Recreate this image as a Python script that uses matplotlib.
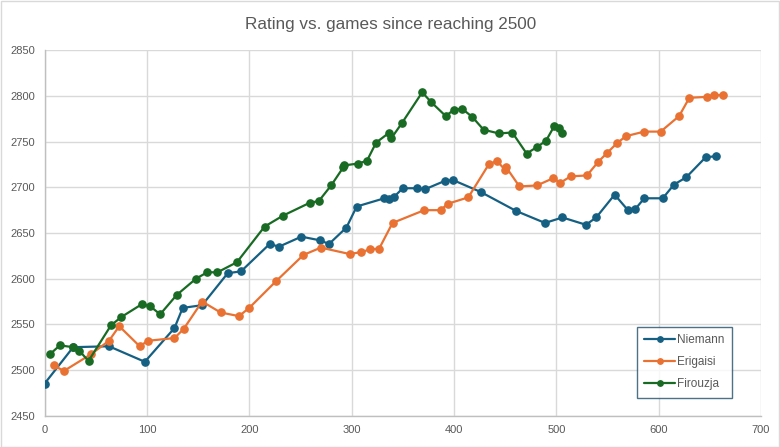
import matplotlib
matplotlib.use("Agg")
import matplotlib.pyplot as plt
from matplotlib.patches import Rectangle

plt.rcParams['font.family'] = ['Liberation Sans', 'DejaVu Sans']

niemann_games = [0, 28, 63, 98, 127, 135, 154, 179, 192, 220, 229, 251, 269, 278,
                 295, 305, 332, 337, 341, 350, 364, 372, 391, 399, 426, 461, 489,
                 506, 529, 539, 557, 570, 577, 586, 604, 615, 627, 646, 656]
niemann_rating = [2485, 2525, 2526, 2509, 2546, 2568, 2571, 2606, 2608, 2638, 2635,
                  2646, 2642, 2638, 2656, 2679, 2688, 2687, 2689, 2699, 2699, 2698,
                  2707, 2708, 2695, 2674, 2661, 2667, 2659, 2667, 2692, 2675, 2676,
                  2688, 2688, 2703, 2711, 2733, 2734]

erigaisi_games = [9, 19, 45, 63, 73, 93, 101, 127, 136, 154, 172, 190, 200, 226,
                  253, 270, 298, 309, 318, 327, 340, 371, 387, 394, 414, 434, 442,
                  450, 451, 464, 481, 497, 504, 514, 530, 541, 550, 559, 568, 586,
                  602, 620, 630, 647, 654, 663]
erigaisi_rating = [2505, 2499, 2517, 2532, 2548, 2526, 2532, 2535, 2545, 2575, 2563,
                   2559, 2568, 2597, 2626, 2634, 2627, 2629, 2632, 2633, 2661, 2675,
                   2675, 2682, 2689, 2725, 2729, 2719, 2722, 2701, 2702, 2710, 2705,
                   2712, 2713, 2728, 2738, 2748, 2756, 2761, 2761, 2778, 2798, 2799,
                   2801, 2801]

firouzja_games = [5, 15, 28, 34, 43, 65, 75, 95, 103, 113, 129, 148, 159, 169, 188,
                  215, 233, 259, 268, 280, 292, 293, 306, 315, 324, 337, 339, 349,
                  369, 378, 392, 400, 408, 418, 429, 444, 457, 471, 481, 490, 498,
                  503, 506]
firouzja_rating = [2517, 2527, 2525, 2521, 2510, 2549, 2558, 2572, 2570, 2561, 2582,
                   2600, 2607, 2607, 2618, 2657, 2669, 2683, 2685, 2702, 2722, 2724,
                   2726, 2729, 2749, 2760, 2754, 2770, 2804, 2793, 2778, 2785, 2786,
                   2777, 2763, 2759, 2760, 2737, 2744, 2751, 2767, 2765, 2760]

W, H = 780, 447
fig = plt.figure(figsize=(W / 100, H / 100), dpi=100)
ax = fig.add_axes([44.5 / W, 1 - 415.7 / H, (761 - 44.5) / W, (415.7 - 50.3) / H])

series = [
    ("Niemann", niemann_games, niemann_rating, "#156082"),
    ("Erigaisi", erigaisi_games, erigaisi_rating, "#E97132"),
    ("Firouzja", firouzja_games, firouzja_rating, "#196B24"),
]
for name, xs, ys, col in series:
    ax.plot(xs, ys, color=col, lw=1.6, marker="o", markersize=5.2, label=name,
            solid_capstyle="round", zorder=3)

ax.set_xlim(0, 700)
ax.set_ylim(2450, 2850)
ax.set_xticks(range(0, 701, 100))
ax.set_yticks(range(2450, 2851, 50))
ax.grid(True, color="#D9D9D9", lw=1)
ax.set_axisbelow(True)
for s in ["top", "right"]:
    ax.spines[s].set_visible(False)
for s in ["left", "bottom"]:
    ax.spines[s].set_color("#BFBFBF")
    ax.spines[s].set_linewidth(1)
ax.tick_params(length=0, labelsize=8, colors="#595959", pad=7)

fig.text(391 / W, 1 - 24 / H, "Rating vs. games since reaching 2500",
         ha="center", va="center", fontsize=12.3, color="#595959")

leg = ax.legend(loc="upper left", bbox_to_anchor=(636.5 / W, 1 - 326.7 / H),
                bbox_transform=fig.transFigure, frameon=True, fancybox=False,
                fontsize=8.5, handlelength=2.6, markerscale=0.75,
                borderpad=0.65, labelspacing=0.85, handletextpad=0.2, borderaxespad=0)
leg.get_frame().set_edgecolor("#1F4E6B")
leg.get_frame().set_linewidth(1)
for t in leg.get_texts():
    t.set_color("#595959")

fig.patches.append(Rectangle((0.5 / W, 0.5 / H), 1 - 1.5 / W, 1 - 1.5 / H,
                             transform=fig.transFigure, fill=False,
                             edgecolor="#D9D9D9", lw=1))

fig.savefig("out.png", dpi=100, facecolor="white")
